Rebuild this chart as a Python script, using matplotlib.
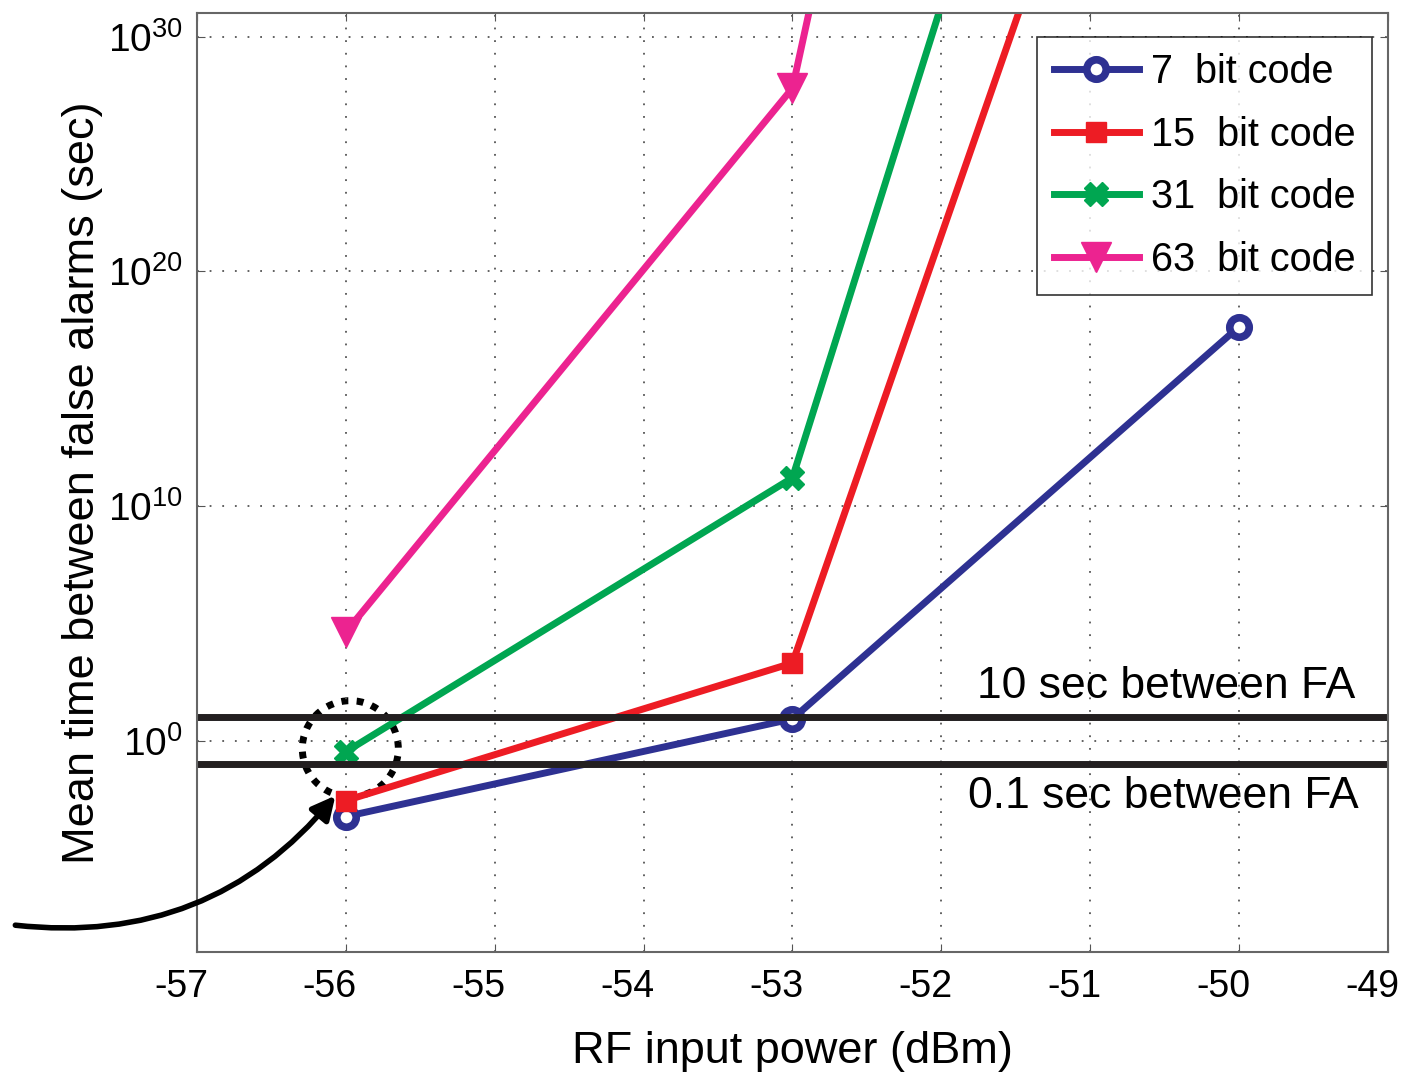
import numpy as np
import matplotlib
matplotlib.use("Agg")
import matplotlib.pyplot as plt
from matplotlib.patches import Circle
from matplotlib.transforms import ScaledTranslation
from matplotlib.ticker import FixedLocator, FuncFormatter, NullLocator

plt.rcParams['font.family'] = ['Liberation Sans', 'DejaVu Sans']
plt.rcParams['mathtext.fontset'] = 'custom'
plt.rcParams['mathtext.rm'] = 'Liberation Sans'
plt.rcParams['mathtext.it'] = 'Liberation Sans'
plt.rcParams['axes.unicode_minus'] = False

# Data (log10 of mean time between false alarms, seconds)
power_dbm = [-56, -53, -50]
labels = ['7  bit code', '15  bit code', '31  bit code', '63  bit code']
log_7 = [-3.23, 0.93, 17.64]
log_15 = [-2.55, 3.31, 58.0]
log_31 = [-0.47, 11.2, 71.6]
log_63 = [4.63, 27.8, 115.0]
thresholds_log = [1, -1]
threshold_labels = ['10 sec between FA', '0.1 sec between FA']

colors = ['#2e3192', '#ed1c24', '#00a651', '#ec2390']
markers = ['o', 's', 'X', 'v']
msizes = [14, 14, 17, 22]

fig = plt.figure(figsize=(14.16, 10.77), dpi=100)
ax = fig.add_axes([0.1391, 0.1161, 0.9802 - 0.1391, 0.9879 - 0.1161])

for logs, lab, c, m, ms in zip([log_7, log_15, log_31, log_63], labels, colors, markers, msizes):
    y = 10.0 ** np.array(logs)
    if m == 'o':
        ax.plot(power_dbm, y, color=c, lw=5, marker=m, ms=ms, mfc='white', mec=c, mew=5.5, label=lab)
    else:
        ax.plot(power_dbm, y, color=c, lw=5, marker=m, ms=ms, mfc=c, mec=c, label=lab)

for t in thresholds_log:
    ax.axhline(10.0 ** t, color='#231f20', lw=5)

ax.set_yscale('log')
ax.set_xlim(-57, -49)
ax.set_ylim(1e-9, 10.0 ** 31)
ax.set_xticks(np.arange(-57, -48, 1))
ax.yaxis.set_major_locator(FixedLocator([1e0, 1e10, 1e20, 1e30]))
ax.yaxis.set_minor_locator(NullLocator())
ax.yaxis.set_major_formatter(FuncFormatter(lambda v, p: r'$10^{%d}$' % round(np.log10(v))))
ax.grid(True, linestyle=(0, (1, 6)), color='#555555', lw=1.3)
ax.tick_params(direction='in', top=True, right=True, labelsize=27, length=6, color='#555555')
ax.tick_params(axis='x', pad=12)
ax.tick_params(axis='y', pad=10, labelsize=28)
for s in ax.spines.values():
    s.set_color('#666666')
    s.set_linewidth(1.5)

# shift x tick labels slightly left, as in the reference
shift = ScaledTranslation(-0.16, 0, fig.dpi_scale_trans)
for lbl in ax.get_xticklabels():
    lbl.set_transform(lbl.get_transform() + shift)

ax.set_xlabel('RF input power (dBm)', fontsize=32.5, labelpad=19)
ax.set_ylabel('Mean time between false alarms (sec)', fontsize=32.5, labelpad=4)

ax.text(-49.22, 10.0 ** 2.3, threshold_labels[0], fontsize=32, ha='right', va='center')
ax.text(-49.20, 10.0 ** -2.38, threshold_labels[1], fontsize=32, ha='right', va='center')

leg = ax.legend(loc='upper right', bbox_to_anchor=(0.9865, 0.975), fontsize=28.5, frameon=True,
                fancybox=False, edgecolor='black', handlelength=2.15, borderpad=0.42,
                labelspacing=0.62, handletextpad=0.3, borderaxespad=0)
leg.get_frame().set_linewidth(1.2)

# dotted circle annotation
circ = Circle((0, 0), radius=0.48, fill=False, lw=5, ls=(0, (1, 1.2)), color='black',
              transform=fig.dpi_scale_trans + ScaledTranslation(-55.97, 10 ** -0.34, ax.transData),
              clip_on=False)
ax.add_patch(circ)

ax.annotate('', xy=(-56.07, 10 ** -2.34), xytext=(-58.22, 10 ** -7.86),
            arrowprops=dict(arrowstyle='-|>', lw=4, color='black', mutation_scale=35,
                            connectionstyle='arc3,rad=0.27', shrinkA=0, shrinkB=0),
            annotation_clip=False)

fig.savefig('out.png', dpi=100)
